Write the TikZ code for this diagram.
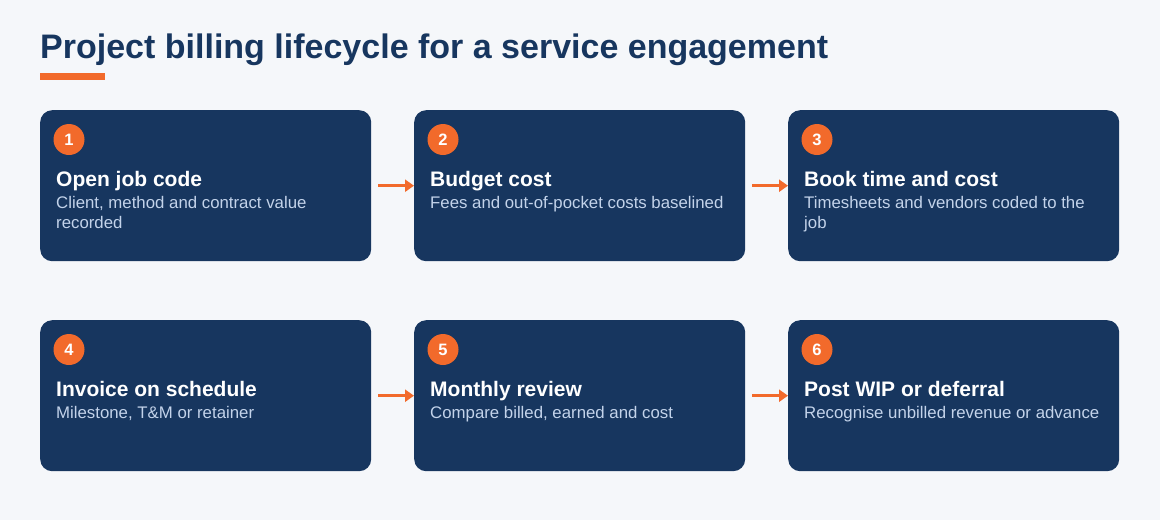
\documentclass[tikz,border=0pt]{standalone}
\usepackage{fontspec}
\setmainfont{Liberation Sans}
\usetikzlibrary{arrows.meta,calc}
\definecolor{bgc}{HTML}{F5F7FA}
\definecolor{cardc}{HTML}{17365F}
\definecolor{orangec}{HTML}{F26A2B}
\definecolor{descc}{HTML}{C3D3EA}
\newcommand{\stepcard}[7]{%
  \node[card] (#1) at (#2,#3) {};
  \node[badge] (#1b) at ($(#1.north west)+(29,29.5)$) {#4};
  \node[cardtitle] (#1t) at ($(#1.north west)+(16,76)$) {#5};
  \node[carddesc] (#1d) at ($(#1.north west)+(16,98)$) {#6};
  \node[carddesc] (#1e) at ($(#1.north west)+(16,118)$) {#7};
}
\begin{document}
\begin{tikzpicture}[x=1pt,y=-1pt,
  card/.style={fill=cardc,rounded corners=12pt,minimum width=331pt,minimum height=151pt,inner sep=0pt,anchor=north west},
  badge/.style={circle,fill=orangec,minimum size=31pt,inner sep=0pt,text=white,font=\bfseries\fontsize{16.5}{18}\selectfont},
  cardtitle/.style={anchor=base west,inner sep=0pt,text=white,font=\bfseries\fontsize{21}{24}\selectfont},
  carddesc/.style={anchor=base west,inner sep=0pt,text=descc,font=\fontsize{16.8}{20}\selectfont},
  flow/.style={draw=orangec,line width=3pt,-{Triangle[length=9pt,width=12pt]},shorten <=7pt}
]
\fill[bgc] (0,0) rectangle (1160,520);
\useasboundingbox (0,0) rectangle (1160,520);
\node[anchor=base west,inner sep=0pt,text=cardc,font=\bfseries\fontsize{34}{40}\selectfont] (title) at (40,58) {Project billing lifecycle for a service engagement};
\fill[orangec] (40,73) rectangle (105,80);

\stepcard{c1}{40}{110}{1}{Open job code}{Client, method and contract value}{recorded}
\stepcard{c2}{414}{110}{2}{Budget cost}{Fees and out-of-pocket costs baselined}{}
\stepcard{c3}{788}{110}{3}{Book time and cost}{Timesheets and vendors coded to the}{job}
\stepcard{c4}{40}{320}{4}{Invoice on schedule}{Milestone, T\&M or retainer}{}
\stepcard{c5}{414}{320}{5}{Monthly review}{Compare billed, earned and cost}{}
\stepcard{c6}{788}{320}{6}{Post WIP or deferral}{Recognise unbilled revenue or advance}{}

\draw[flow] (c1.east) -- (c2.west);
\draw[flow] (c2.east) -- (c3.west);
\draw[flow] (c4.east) -- (c5.west);
\draw[flow] (c5.east) -- (c6.west);
\end{tikzpicture}
\end{document}
